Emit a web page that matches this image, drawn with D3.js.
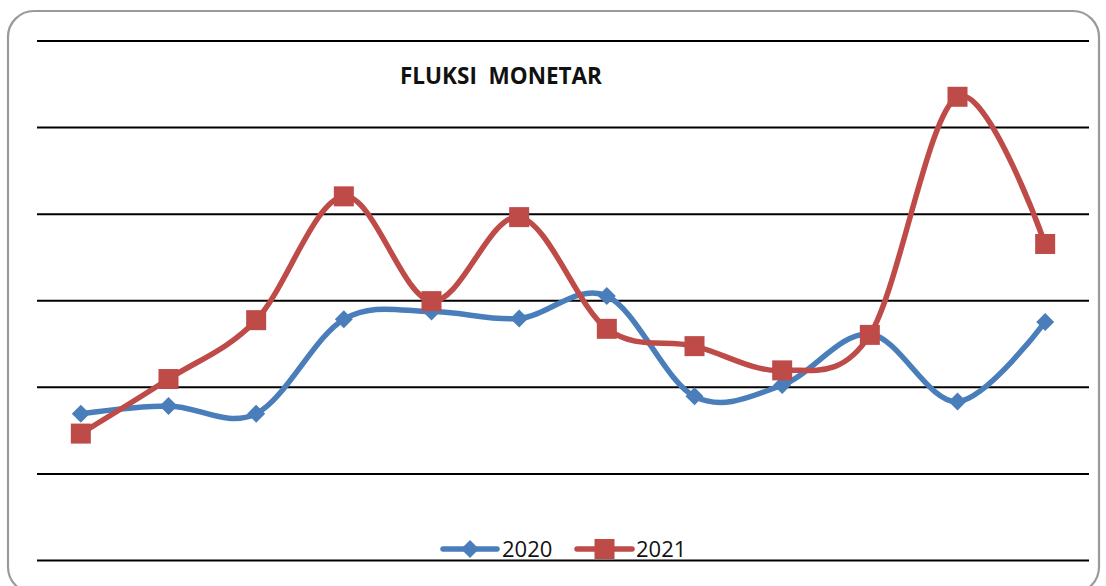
<!DOCTYPE html>
<html>
<head>
<meta charset="utf-8">
<script src="https://cdn.jsdelivr.net/npm/d3@7/dist/d3.min.js"></script>
<style>
  html, body { margin: 0; padding: 0; background: #ffffff; }
  svg { display: block; }
</style>
</head>
<body>
<svg id="chart" width="1106" height="586"></svg>
<script>
// ---- data (units = gridline steps) ----
const categories = ["Janar","Shkurt","Mars","Prill","Maj","Qershor","Korrik","Gusht","Shtator","Tetor","Nëntor","Dhjetor"];
const values2020 = [1.69, 1.78, 1.69, 2.78, 2.87, 2.79, 3.05, 1.89, 2.02, 2.61, 1.83, 2.75];
const values2021 = [1.46, 2.09, 2.77, 4.20, 2.99, 3.96, 2.67, 2.47, 2.19, 2.60, 5.35, 3.65];
const gridTicks = [0, 1, 2, 3, 4, 5, 6];
const seriesNames = ["2020", "2021"];
const titleText = "FLUKSI  MONETAR";

const colors = { "2020": "#4a7ebb", "2021": "#be4b48" };

const svg = d3.select("#chart");

// frame
svg.append("rect")
  .attr("x", 8).attr("y", 11)
  .attr("width", 1091).attr("height", 582)
  .attr("rx", 26).attr("ry", 26)
  .attr("fill", "#ffffff")
  .attr("stroke", "#9a9a9a")
  .attr("stroke-width", 2.2);

const plot = { left: 37, right: 1089, top: 40.5, bottom: 560 };

const x = d3.scaleBand().domain(categories).range([plot.left, plot.right]);
const y = d3.scaleLinear().domain([0, 6]).range([plot.bottom, plot.top]);
const cx = d => x(d) + x.bandwidth() / 2;

// gridlines via axis
const yAxis = d3.axisLeft(y).tickValues(gridTicks).tickSize(-(plot.right - plot.left)).tickFormat("");
const g = svg.append("g").attr("transform", `translate(${plot.left},0)`).call(yAxis);
g.select(".domain").remove();
g.selectAll(".tick line").attr("stroke", "#000").attr("stroke-width", 2);

// title
svg.append("text")
  .attr("x", 501).attr("y", 84)
  .attr("text-anchor", "middle")
  .attr("font-family", "'Open Sans', 'Liberation Sans', sans-serif")
  .attr("font-weight", "bold")
  .attr("font-size", 22.5)
  .attr("fill", "#111")
  .style("white-space", "pre")
  .text(titleText);

const line = d3.line()
  .x(d => cx(d.c))
  .y(d => y(d.v))
  .curve(d3.curveCardinal.tension(0));

const series = [
  { name: "2020", values: values2020 },
  { name: "2021", values: values2021 }
];

const diamond = (s) => `M0,${-s}L${s},0L0,${s}L${-s},0Z`;

series.forEach(s => {
  const pts = categories.map((c, i) => ({ c, v: s.values[i] }));
  svg.append("path")
    .datum(pts)
    .attr("fill", "none")
    .attr("stroke", colors[s.name])
    .attr("stroke-width", 5.5)
    .attr("stroke-linecap", "round")
    .attr("d", line);
  const m = svg.append("g");
  if (s.name === "2020") {
    m.selectAll("path").data(pts).enter().append("path")
      .attr("transform", d => `translate(${cx(d.c)},${y(d.v)})`)
      .attr("d", diamond(9))
      .attr("fill", colors[s.name]);
  } else {
    m.selectAll("rect").data(pts).enter().append("rect")
      .attr("x", d => cx(d.c) - 10)
      .attr("y", d => y(d.v) - 10)
      .attr("width", 20).attr("height", 20)
      .attr("fill", colors[s.name]);
  }
});

// legend
const legendItems = [
  { name: seriesNames[0], x0: 443, x1: 497, tx: 502 },
  { name: seriesNames[1], x0: 577, x1: 632, tx: 636 }
];
const ly = 549;
legendItems.forEach(it => {
  svg.append("line")
    .attr("x1", it.x0).attr("x2", it.x1)
    .attr("y1", ly).attr("y2", ly)
    .attr("stroke", colors[it.name])
    .attr("stroke-width", 5.5)
    .attr("stroke-linecap", "round");
  const mx = (it.x0 + it.x1) / 2;
  if (it.name === "2020") {
    svg.append("path")
      .attr("transform", `translate(${mx},${ly})`)
      .attr("d", diamond(9))
      .attr("fill", colors[it.name]);
  } else {
    svg.append("rect")
      .attr("x", mx - 10).attr("y", ly - 10)
      .attr("width", 20).attr("height", 20)
      .attr("fill", colors[it.name]);
  }
  svg.append("text")
    .attr("x", it.tx).attr("y", 557)
    .attr("font-family", "'Open Sans', 'Liberation Sans', sans-serif")
    .attr("font-size", 22)
    .attr("fill", "#111")
    .text(it.name);
});
</script>
</body>
</html>
